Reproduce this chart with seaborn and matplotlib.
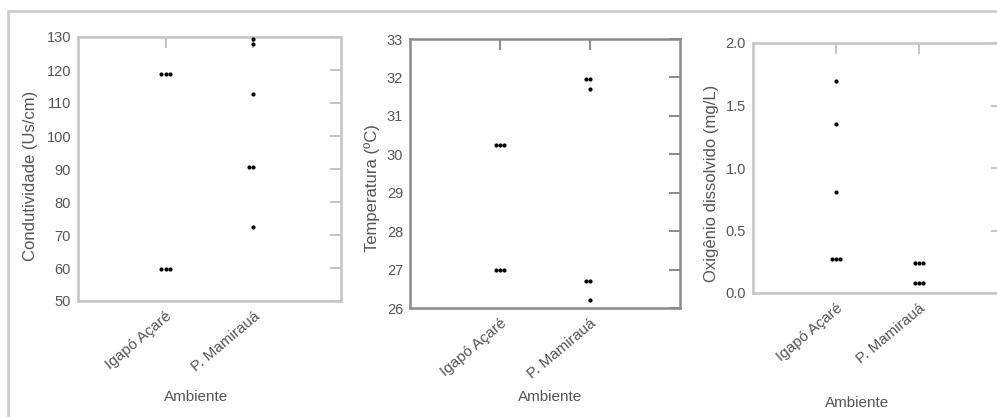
import matplotlib
matplotlib.use("Agg")
import matplotlib.pyplot as plt
import matplotlib.patches as mpatches
import seaborn as sns
import pandas as pd

# ---- data ----
categories = ["Igapó Açaré", "P. Mamirauá"]

cond_igapo = [118.8, 118.8, 118.8, 59.8, 59.8, 59.8]
cond_mamiraua = [129.3, 127.8, 112.6, 90.6, 90.6, 72.3]

temp_igapo = [30.23, 30.23, 30.23, 27.0, 27.0, 27.0]
temp_mamiraua = [31.95, 31.95, 31.7, 26.69, 26.69, 26.22]

oxi_igapo = [1.70, 1.35, 0.81, 0.27, 0.27, 0.27]
oxi_mamiraua = [0.24, 0.24, 0.24, 0.08, 0.08, 0.08]

ylabels = ["Condutividade (Us/cm)", "Temperatura (ºC)", "Oxigênio dissolvido (mg/L)"]
xlabel = "Ambiente"
ylims = [(50, 130), (26, 33), (0, 2.0)]
yticks = [list(range(50, 131, 10)), list(range(26, 34)), [0.0, 0.5, 1.0, 1.5, 2.0]]
ytick_fmt = ["{:.0f}", "{:.0f}", "{:.1f}"]

series = [(cond_igapo, cond_mamiraua), (temp_igapo, temp_mamiraua), (oxi_igapo, oxi_mamiraua)]

# ---- style ----
sns.set_theme(style="white")
plt.rcParams["font.family"] = ["Liberation Sans", "DejaVu Sans"]

W, H = 997, 417
fig = plt.figure(figsize=(W / 100, H / 100), dpi=100)
fig.patch.set_facecolor("white")

# outer frame of the figure
fig.patches.append(mpatches.Rectangle((8 / W, -0.2), 1.2, (H - 11) / H + 0.2,
                                      transform=fig.transFigure, fill=False,
                                      edgecolor="#c8c8c8", linewidth=1.8))

def pos(left, right, top, bottom):
    return [left / W, (H - bottom) / H, (right - left) / W, (bottom - top) / H]

positions = [pos(78, 341, 37, 301), pos(410, 680, 39, 308), pos(753, 1002, 43, 293)]
spine_colors = ["#c4c4c4", "#8a8a8a", "#c4c4c4"]
ylabel_coords = [(-0.152, 0.473), (-0.111, 0.446), (-0.137, 0.44)]
xlabel_coords = [(0.45, -0.337), (0.52, -0.305), (0.42, -0.412)]

text_color = "#555555"

for i in range(3):
    ax = fig.add_axes(positions[i])
    a, b = series[i]
    df = pd.DataFrame({
        "Ambiente": [categories[0]] * len(a) + [categories[1]] * len(b),
        "valor": a + b,
    })
    sns.swarmplot(data=df, x="Ambiente", y="valor", order=categories,
                  color="black", size=3, ax=ax)
    ax.set_xlim(-1, 2)
    ax.set_ylim(*ylims[i])
    ax.set_yticks(yticks[i])
    ax.set_yticklabels([ytick_fmt[i].format(v) for v in yticks[i]])
    ax.set_xticks([0, 1])
    ax.set_xticklabels(categories, rotation=40, ha="right", rotation_mode="anchor")
    ax.tick_params(axis="both", direction="in", length=8, width=1.4,
                   color=spine_colors[i], labelcolor=text_color, labelsize=10.5,
                   top=True, right=True, pad=5)
    ax.tick_params(axis="x", labelsize=11, pad=6)
    for sp in ax.spines.values():
        sp.set_color(spine_colors[i])
        sp.set_linewidth(1.8)
    ax.set_ylabel(ylabels[i], fontsize=12, color=text_color)
    ax.set_xlabel(xlabel, fontsize=11, color=text_color)
    ax.yaxis.set_label_coords(*ylabel_coords[i])
    ax.xaxis.set_label_coords(*xlabel_coords[i])
    ax.set_facecolor("white")

fig.savefig("out.png", dpi=100)
